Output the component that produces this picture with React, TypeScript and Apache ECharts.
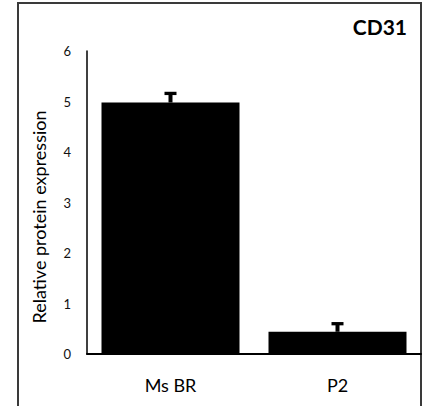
import React, { useEffect, useRef } from "react";
import * as echarts from "echarts";

const categories = ["Ms BR", "P2"];
const values = [4.98, 0.44];
const errors = [0.18, 0.16];
const yTicks = [0, 1, 2, 3, 4, 5, 6];
const title = "CD31";
const yName = "Relative protein expression";

export default function App() {
  const ref = useRef<HTMLDivElement>(null);
  useEffect(() => {
    if (!ref.current) return;
    const chart = echarts.init(ref.current, undefined, { renderer: "svg" });
    const font = "Lato, 'Open Sans', sans-serif";
    chart.setOption({
      animation: false,
      backgroundColor: "#fff",
      title: {
        text: title,
        right: 14,
        top: 11,
        textStyle: { fontFamily: font, fontSize: 21, fontWeight: "bold", color: "#000" },
      },
      graphic: [
        {
          type: "rect",
          shape: { x: 18, y: 3, width: 403, height: 412 },
          style: { fill: "none", stroke: "#3a3a3a", lineWidth: 2 },
          silent: true,
        },
        {
          type: "text",
          x: 39,
          y: 217,
          rotation: Math.PI / 2,
          style: {
            text: yName,
            fontFamily: font,
            fontSize: 18,
            fill: "#000",
            textAlign: "center",
            textVerticalAlign: "middle",
          },
          silent: true,
        },
      ],
      grid: { left: 87, right: 5, top: 51, bottom: 52 },
      xAxis: {
        type: "category",
        data: categories,
        axisLine: { lineStyle: { color: "#000", width: 2 } },
        axisTick: { show: false },
        axisLabel: { fontFamily: font, fontSize: 18, color: "#000", margin: 22 },
      },
      yAxis: {
        type: "value",
        min: yTicks[0],
        max: yTicks[yTicks.length - 1],
        interval: 1,
        axisLine: { show: true, lineStyle: { color: "#000", width: 1.5 } },
        axisTick: { show: false },
        splitLine: { show: false },
        axisLabel: { fontFamily: font, fontSize: 13, color: "#111", margin: 16 },
      },
      series: [
        {
          type: "bar",
          data: values,
          barWidth: 138,
          itemStyle: { color: "#000" },
        },
        {
          type: "custom",
          data: values.map((v, i) => [i, v, v + errors[i]]),
          renderItem: (params: any, api: any) => {
            const i = api.value(0);
            const base = api.coord([i, api.value(1)]);
            const top = api.coord([i, api.value(2)]);
            return {
              type: "group",
              children: [
                {
                  type: "line",
                  shape: { x1: base[0], y1: base[1], x2: top[0], y2: top[1] },
                  style: { stroke: "#000", lineWidth: 4 },
                },
                {
                  type: "line",
                  shape: { x1: top[0] - 6, y1: top[1], x2: top[0] + 6, y2: top[1] },
                  style: { stroke: "#000", lineWidth: 3.3 },
                },
              ],
            };
          },
          z: 3,
        },
      ],
    });
    return () => chart.dispose();
  }, []);
  return (
    <div
      ref={ref}
      style={{ position: "fixed", left: 0, top: 0, width: 426, height: 406 }}
    />
  );
}
